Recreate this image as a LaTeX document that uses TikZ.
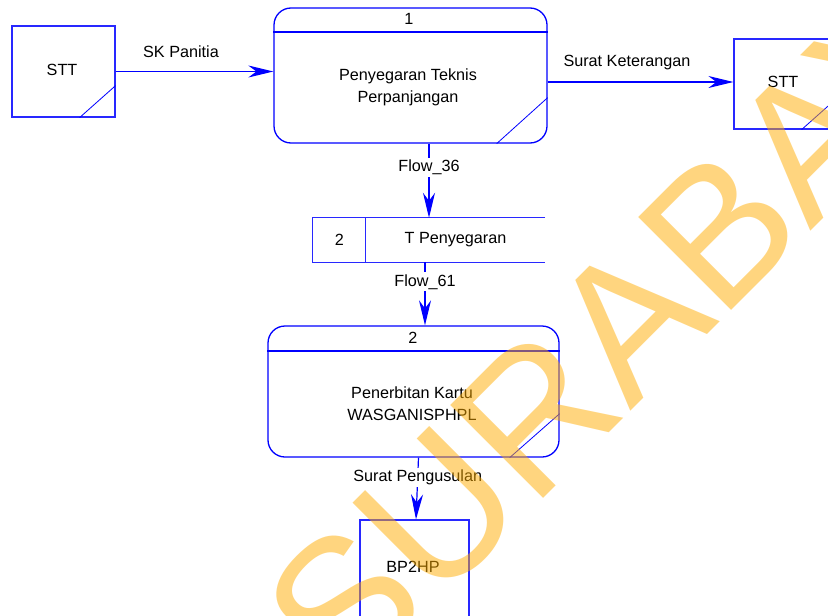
\documentclass[tikz,border=0pt]{standalone}
\usepackage{fontspec}
\setmainfont{Liberation Sans}
\usetikzlibrary{arrows.meta}
\definecolor{dfdblue}{RGB}{0,0,255}
\definecolor{boxblue}{RGB}{40,40,255}
\definecolor{wmorange}{RGB}{255,173,0}
\tikzset{
  lbl/.style={font=\fontsize{16.2}{22}\selectfont, text=black, inner sep=1pt, align=center},
  flowlbl/.style={lbl, fill=white, inner sep=2pt},
  entity/.style={draw=boxblue, line width=1.2pt, rectangle, inner sep=0pt},
  procbox/.style={draw=dfdblue, line width=1.3pt, rectangle, rounded corners=17pt, inner sep=0pt},
  flow/.style={draw=dfdblue, line width=1.2pt, -{Stealth[length=25pt,width=12pt,inset=8pt]}},
  thin/.style={draw=dfdblue, line width=0.8pt},
}
\begin{document}
\begin{tikzpicture}[x=1pt,y=-1pt]
\useasboundingbox[fill=white] (0,0) rectangle (828,616);

% external entities
\node[entity, minimum width=103pt, minimum height=91pt] (stt1) at (63.5,71.5) {};
\node[lbl] (stt1t) at (62,70) {STT};
\draw[thin] ([xshift=-36pt]stt1.south east) -- ([yshift=32pt]stt1.south east);

\node[entity, minimum width=103pt, minimum height=90pt] (stt2) at (785.5,84) {};
\node[lbl] (stt2t) at (783,82) {STT};
\draw[thin] ([xshift=-36pt]stt2.south east) -- ([yshift=32pt]stt2.south east);

\node[entity, minimum width=109pt, minimum height=104pt] (bp) at (414.5,572) {};
\node[lbl] (bpt) at (413,567) {BP2HP};

% process 1
\node[procbox, minimum width=273pt, minimum height=135pt] (p1) at (410.5,75.5) {};
\coordinate (p1div) at (0,32);
\draw[dfdblue, line width=1.2pt] (p1.west |- p1div) -- (p1.east |- p1div);
\node[lbl] (p1num) at (409,19) {1};
\node[lbl] (p1t) at (408,87) {Penyegaran Teknis\\Perpanjangan};
\draw[thin] ([xshift=-51pt]p1.south east) -- ([yshift=46pt]p1.south east);

% data store
\node[minimum width=232pt, minimum height=44pt, inner sep=0pt] (store) at (429,240) {};
\draw[boxblue, line width=1.2pt] (store.north east) -- (store.north west) -- (store.south west) -- (store.south east);
\draw[boxblue, line width=1.2pt] ([xshift=53pt]store.north west) -- ([xshift=53pt]store.south west);
\node[lbl] (storeid) at (339.5,240) {2};
\node[lbl] (storet) at (455.5,240) {T Penyegaran};

% process 2
\node[procbox, minimum width=291pt, minimum height=131pt] (p2) at (413.5,391.5) {};
\coordinate (p2div) at (0,351);
\draw[dfdblue, line width=1.2pt] (p2.west |- p2div) -- (p2.east |- p2div);
\node[lbl] (p2num) at (413,338) {2};
\node[lbl] (p2t) at (412,404) {Penerbitan Kartu\\WASGANISPHPL};
\draw[thin] ([xshift=-50pt]p2.south east) -- ([yshift=44pt]p2.south east);

% data flows
\draw[flow] (stt1.east) -- (stt1.east -| p1.west);
\node[lbl] (fSK) at (181,52) {SK Panitia};

\coordinate (kY) at (0,82);
\draw[flow] (p1.east |- kY) -- (stt2.west |- kY);
\node[lbl] (fSKet) at (627,63) {Surat Keterangan};

\draw[flow] (p1.south -| store.north) -- node[flowlbl, pos=0.32] (f36) {Flow\_36} (store.north);

\coordinate (k61) at (425,0);
\draw[flow] (store.south -| k61) -- node[flowlbl, pos=0.31] (f61) {Flow\_61} (p2.north -| k61);

\coordinate (kPa) at (418.5,0);
\coordinate (kPb) at (416,0);
\draw[flow] (p2.south -| kPa) -- node[flowlbl, pos=0.32] (fPeng) {Surat Pengusulan} (bp.north -| kPb);

% watermark
\begin{scope}
\clip (0,0) rectangle (828,616);
\node[rotate=45, anchor=base west, inner sep=0pt, text=wmorange, opacity=0.5,
      font=\fontsize{191}{200}\selectfont] (wm) at (345,697) {SURABAYA};
\end{scope}
\end{tikzpicture}
\end{document}
